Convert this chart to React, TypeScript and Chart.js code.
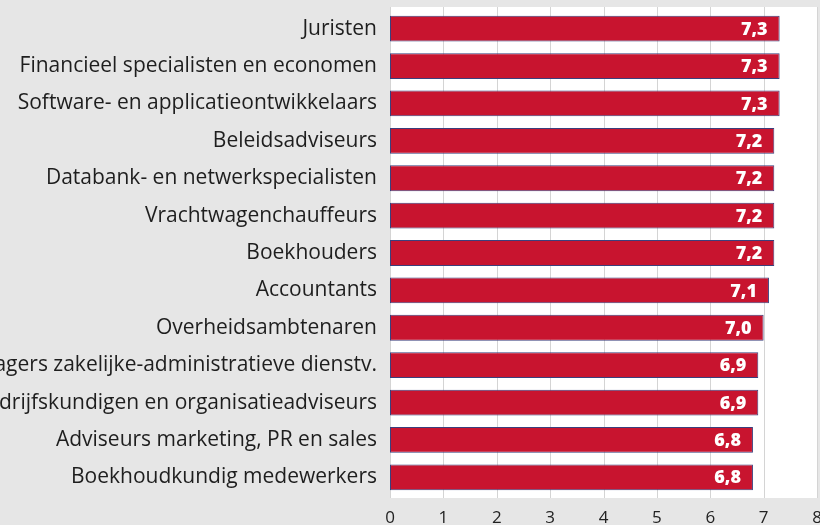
import React, { useEffect, useRef } from "react";
import { Chart, registerables } from "chart.js";

Chart.register(...registerables);

const categories = [
  "Juristen",
  "Financieel specialisten en economen",
  "Software- en applicatieontwikkelaars",
  "Beleidsadviseurs",
  "Databank- en netwerkspecialisten",
  "Vrachtwagenchauffeurs",
  "Boekhouders",
  "Accountants",
  "Overheidsambtenaren",
  "Managers zakelijke-administratieve dienstv.",
  "Bedrijfskundigen en organisatieadviseurs",
  "Adviseurs marketing, PR en sales",
  "Boekhoudkundig medewerkers",
];
const values = [7.3, 7.3, 7.3, 7.2, 7.2, 7.2, 7.2, 7.1, 7.0, 6.9, 6.9, 6.8, 6.8];
const xMin = 0;
const xMax = 8;
const xTicks = [0, 1, 2, 3, 4, 5, 6, 7, 8];

const FONT = "'Open Sans', 'Noto Sans', sans-serif";

const bgPlugin = {
  id: "bgPlugin",
  beforeDraw(chart: any) {
    const { ctx, chartArea } = chart;
    const top = chartArea.top - 3;
    const bottom = chartArea.bottom + 2;
    ctx.save();
    ctx.fillStyle = "#e6e6e6";
    ctx.fillRect(0, 0, chart.width, chart.height);
    ctx.fillStyle = "#ffffff";
    ctx.fillRect(chartArea.left, top, chartArea.right - chartArea.left, bottom - top);
    const xs = chart.scales.x;
    ctx.strokeStyle = "#d4d4d4";
    ctx.lineWidth = 1;
    xTicks.forEach((t) => {
      const px = Math.round(xs.getPixelForValue(t)) + 0.5;
      ctx.beginPath();
      ctx.moveTo(px, top);
      ctx.lineTo(px, bottom);
      ctx.stroke();
    });
    ctx.restore();
  },
};

const valueLabels = {
  id: "valueLabels",
  afterDatasetsDraw(chart: any) {
    const { ctx } = chart;
    const meta = chart.getDatasetMeta(0);
    ctx.save();
    ctx.fillStyle = "#ffffff";
    ctx.font = `800 18px ${FONT}`;
    ctx.textAlign = "right";
    ctx.textBaseline = "middle";
    meta.data.forEach((bar: any, i: number) => {
      const txt = values[i].toFixed(1).replace(".", ",");
      ctx.fillText(txt, bar.x - 12, bar.y + 1);
    });
    ctx.restore();
  },
};

export default function App() {
  const ref = useRef<HTMLCanvasElement>(null);
  useEffect(() => {
    if (!ref.current) return;
    const chart = new Chart(ref.current, {
      type: "bar",
      data: {
        labels: categories,
        datasets: [
          {
            data: values,
            backgroundColor: "#c8142f",
            borderColor: "#3b3f7c",
            borderWidth: 1,
            borderSkipped: false,
            barPercentage: 0.69,
            categoryPercentage: 1,
          },
        ],
      },
      options: {
        indexAxis: "y",
        animation: false,
        responsive: false,
        maintainAspectRatio: false,
        layout: { padding: { top: 10, right: 3, left: 0, bottom: 0 } },
        plugins: { legend: { display: false }, tooltip: { enabled: false } },
        scales: {
          x: {
            min: xMin,
            max: xMax,
            ticks: { stepSize: 1, color: "#222222", font: { family: FONT, size: 17 }, padding: 12 },
            grid: { display: false, drawTicks: false },
            border: { display: false },
            afterFit(scale: any) {
              scale.height = 29;
              scale.paddingLeft = 0;
              scale.paddingRight = 0;
            },
          },
          y: {
            ticks: { color: "#1e1e1e", font: { family: FONT, size: 21 }, padding: 13, autoSkip: false },
            grid: { display: false, drawTicks: false },
            border: { display: false },
            afterFit(scale: any) {
              scale.width = 390;
              scale.paddingTop = 0;
              scale.paddingBottom = 0;
            },
          },
        },
      },
      plugins: [bgPlugin, valueLabels],
    });
    return () => chart.destroy();
  }, []);
  return (
    <div style={{ position: "absolute", left: 0, top: 0, width: 820, height: 525 }}>
      <canvas ref={ref} width={820} height={525} style={{ width: 820, height: 525 }} />
    </div>
  );
}
